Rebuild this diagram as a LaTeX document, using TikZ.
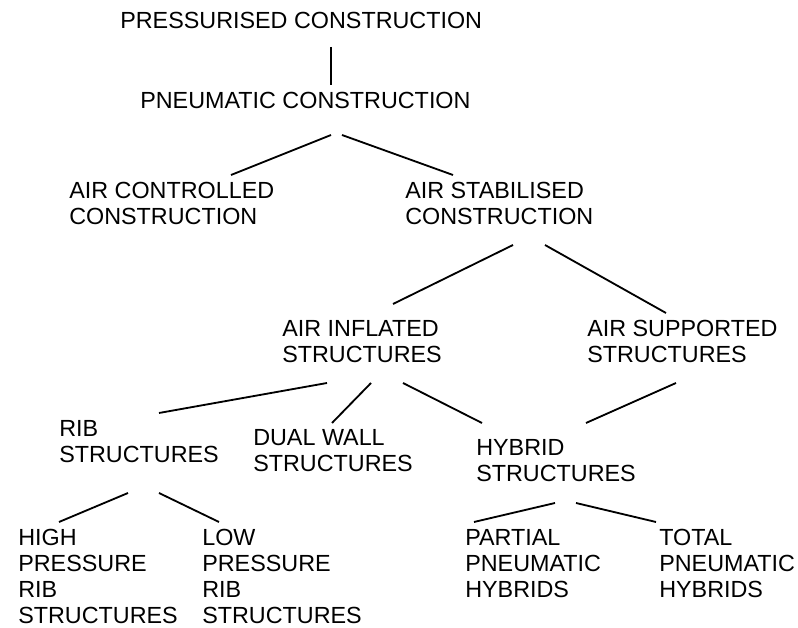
\documentclass[tikz,border=0pt]{standalone}
\usepackage{fontspec}
\setmainfont{Liberation Sans}
\usetikzlibrary{calc}

\tikzset{
    lbl/.style={inner sep=0pt, align=left, font=\fontsize{16.6pt}{18.55pt}\selectfont},
    link/.style={line width=1.3pt}
}

\begin{document}
\begin{tikzpicture}[x=0.025cm, y=-0.025cm]
    \useasboundingbox (0,0) rectangle (798,628);
    % top of the tree
    \node[lbl, anchor=west] (press) at (120,20) {PRESSURISED CONSTRUCTION};
    \node[lbl, anchor=west] (pneu) at (140,100) {PNEUMATIC CONSTRUCTION};
    % second level
    \node[lbl, anchor=north west] (ctrl) at (69,182) {AIR CONTROLLED\\CONSTRUCTION};
    \node[lbl, anchor=north west] (stab) at (405,182) {AIR STABILISED\\CONSTRUCTION};
    % third level
    \node[lbl, anchor=north west] (infl) at (282,320) {AIR INFLATED\\STRUCTURES};
    \node[lbl, anchor=north west] (supp) at (587,320) {AIR SUPPORTED\\STRUCTURES};
    % fourth level
    \node[lbl, anchor=north west] (rib) at (59,420) {RIB\\STRUCTURES};
    \node[lbl, anchor=north west] (dual) at (253,429) {DUAL WALL\\STRUCTURES};
    \node[lbl, anchor=north west] (hyb) at (476,439) {HYBRID\\STRUCTURES};
    % leaves
    \node[lbl, anchor=north west] (high) at (18,529) {HIGH\\PRESSURE\\RIB\\STRUCTURES};
    \node[lbl, anchor=north west] (low) at (202,529) {LOW\\PRESSURE\\RIB\\STRUCTURES};
    \node[lbl, anchor=north west] (part) at (465,529) {PARTIAL\\PNEUMATIC\\HYBRIDS};
    \node[lbl, anchor=north west] (total) at (659,529) {TOTAL\\PNEUMATIC\\HYBRIDS};

    % connecting lines
    \draw[link] ($(press.west)+(211,27)$) -- ($(pneu.west)+(191,-15)$);
    \draw[link] ($(pneu.west)+(191,35)$) -- ($(ctrl.north west)+(162,-7)$);
    \draw[link] ($(pneu.west)+(202,35)$) -- ($(stab.north west)+(48,-7)$);
    \draw[link] ($(stab.north west)+(108,63)$) -- ($(infl.north west)+(111,-16)$);
    \draw[link] ($(stab.north west)+(140,63)$) -- ($(supp.north west)+(79,-7)$);
    \draw[link] ($(infl.north west)+(45,63)$) -- ($(rib.north west)+(100,-7)$);
    \draw[link] ($(infl.north west)+(89,63)$) -- ($(dual.north west)+(79,-6)$);
    \draw[link] ($(infl.north west)+(121,63)$) -- ($(hyb.north west)+(6,-16)$);
    \draw[link] ($(supp.north west)+(89,63)$) -- ($(hyb.north west)+(110,-16)$);
    \draw[link] ($(rib.north west)+(69,73)$) -- ($(high.north west)+(41,-7)$);
    \draw[link] ($(rib.north west)+(100,73)$) -- ($(low.north west)+(17,-7)$);
    \draw[link] ($(hyb.north west)+(79,64)$) -- ($(part.north west)+(9,-7)$);
    \draw[link] ($(hyb.north west)+(100,64)$) -- ($(total.north west)+(-3,-7)$);
\end{tikzpicture}
\end{document}
